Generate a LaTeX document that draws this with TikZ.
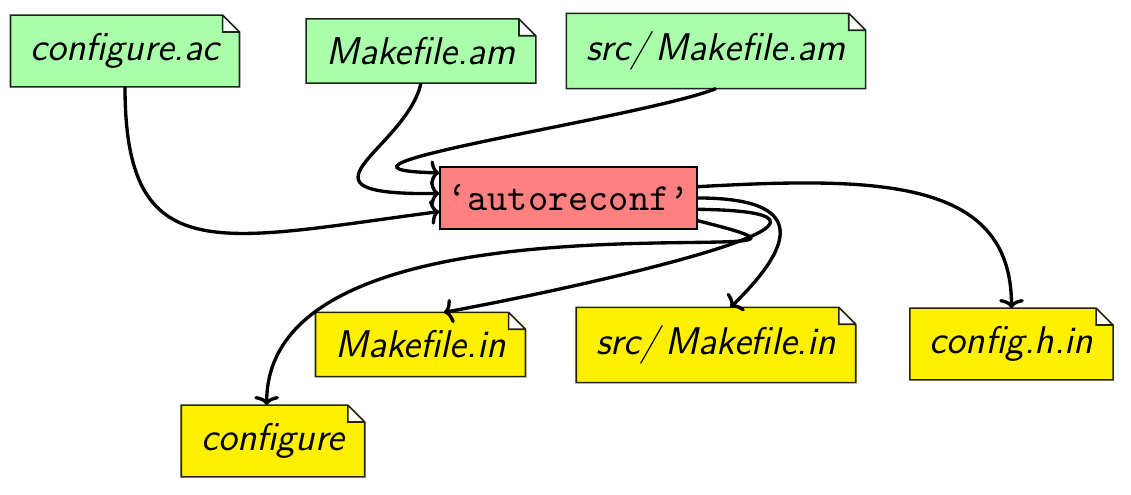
\documentclass[tikz,border=0pt]{standalone}
\usepackage{fontspec}
\usepackage{xcolor}
\usepackage{tikz}
\usetikzlibrary{arrows.meta,backgrounds}
\definecolor{sourcefill}{RGB}{170,255,170}
\definecolor{genfill}{RGB}{255,240,0}
\definecolor{toolfill}{RGB}{255,128,128}

\begin{document}
\begin{tikzpicture}[
    font=\fontsize{11}{13}\selectfont\sffamily\itshape,
    file/.style={inner xsep=5.5pt, inner ysep=5pt},
    tool/.style={draw=black, fill=toolfill, line width=0.5pt, inner xsep=2pt, inner ysep=5pt,
      font=\fontsize{10.95}{13}\selectfont\ttfamily},
    arrow/.style={-{To[length=2.6pt, width=7pt]}, line width=0.95pt}
  ]
    \useasboundingbox (0,0) rectangle (11.31,-4.95);
    \node[file] (confac) at (1.25,-0.51) {configure.ac};
    \node[file] (mkam) at (4.21,-0.51) {Makefile.am};
    \node[file] (srcam) at (7.16,-0.51) {src/\,Makefile.am};
    \node[tool] (autoreconf) at (5.685,-1.98) {‘autoreconf’};
    \node[file] (mkin) at (4.205,-3.445) {Makefile.in};
    \node[file] (srcin) at (7.16,-3.45) {src/\,Makefile.in};
    \node[file] (confh) at (10.115,-3.44) {config.h.in};
    \node[file] (conf) at (2.73,-4.41) {configure};
    % dog-eared notes behind the file names
    \begin{scope}[on background layer]
      \foreach \f/\c in {confac/sourcefill, mkam/sourcefill, srcam/sourcefill,
          mkin/genfill, srcin/genfill, confh/genfill, conf/genfill}
        \filldraw[fill=\c, draw=\c!15!black, line width=0.45pt]
          (\f.south west) -- (\f.north west) -- ([xshift=-4.8pt]\f.north east)
          -- ([yshift=-4.8pt]\f.north east) -- (\f.south east) -- cycle
          ([xshift=-4.8pt]\f.north east) -- ([xshift=-4.8pt,yshift=-4.8pt]\f.north east)
          -- ([yshift=-4.8pt]\f.north east);
    \end{scope}
    \draw[arrow] (confac.south) .. controls +(0,-1.84) and +(-2.21,-0.29) .. (autoreconf.186);
    \draw[arrow] (mkam.south) .. controls +(-0.15,-0.67) and +(-1.61,-0.02) .. (autoreconf.178);
    \draw[arrow] (srcam.south) .. controls +(-0.76,-0.30) and +(-1.61,0.04) .. (autoreconf.169);
    \draw[arrow] (autoreconf.5) .. controls +(1.8,0.1) and +(0,1.3) .. (confh.north);
    \draw[arrow] (autoreconf.east) .. controls +(1.04,0) and +(0.7,0.68) .. (srcin.69);
    \draw[arrow] (autoreconf.355) .. controls +(2.14,-0.03) and +(1.57,0.29) .. (mkin.54);
    \draw[arrow] (autoreconf.350) .. controls +(2.44,-0.6) and +(0,2.37) .. (conf.100);
  \end{tikzpicture}
\end{document}
